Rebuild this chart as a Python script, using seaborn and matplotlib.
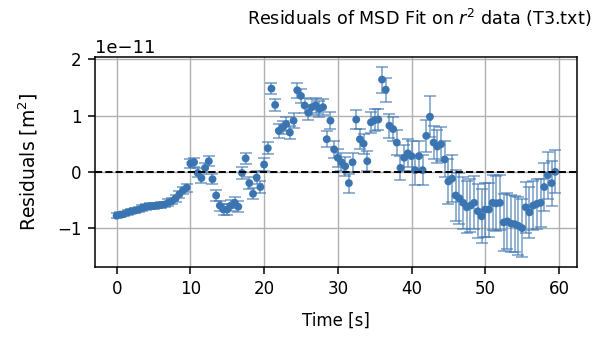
import numpy as np
import pandas as pd
import matplotlib
matplotlib.use("Agg")
import matplotlib.pyplot as plt
import seaborn as sns

# time samples [s]
time_s = [i * 0.5 for i in range(120)]

# residuals in units of 1e-11 m^2
residuals_e11 = [
    -0.78, -0.76, -0.75, -0.72, -0.70, -0.69, -0.67, -0.64, -0.62, -0.61,
    -0.61, -0.60, -0.59, -0.58, -0.55, -0.52, -0.47, -0.40, -0.33, -0.28,
    0.15, 0.17, -0.02, -0.11, 0.07, 0.19, -0.13, -0.42, -0.60, -0.67,
    -0.67, -0.60, -0.55, -0.62, -0.02, 0.24, -0.20, -0.39, -0.10, -0.27,
    0.13, 0.42, 1.48, 1.19, 0.73, 0.79, 0.85, 0.70, 0.91, 1.45,
    1.35, 1.18, 1.05, 1.15, 1.18, 1.12, 1.15, 0.58, 0.91, 0.40,
    0.25, 0.17, 0.10, -0.20, 0.17, 0.93, 0.58, 0.50, 0.19, 0.88,
    0.92, 0.93, 1.64, 1.46, 0.82, 0.76, 0.52, 0.07, 0.25, 0.33,
    0.28, 0.03, 0.28, 0.03, 0.64, 0.98, 0.52, 0.45, 0.49, 0.22,
    -0.17, -0.12, -0.42, -0.47, -0.55, -0.63, -0.60, -0.55, -0.70, -0.79,
    -0.67, -0.67, -0.55, -0.56, -0.55, -0.90, -0.88, -0.92, -0.93, -0.96,
    -1.00, -0.63, -0.72, -0.60, -0.57, -0.55, -0.27, -0.06, -0.20, 0.00,
]

# one-sigma uncertainties in units of 1e-11 m^2
errors_e11 = [
    0.04, 0.04, 0.04, 0.04, 0.04, 0.04, 0.05, 0.05, 0.05, 0.05,
    0.05, 0.05, 0.05, 0.05, 0.06, 0.06, 0.06, 0.06, 0.06, 0.07,
    0.08, 0.08, 0.08, 0.08, 0.08, 0.09, 0.09, 0.09, 0.09, 0.09,
    0.09, 0.10, 0.10, 0.10, 0.10, 0.10, 0.10, 0.10, 0.11, 0.11,
    0.11, 0.11, 0.10, 0.11, 0.12, 0.12, 0.12, 0.12, 0.13, 0.13,
    0.13, 0.13, 0.13, 0.14, 0.14, 0.14, 0.14, 0.14, 0.15, 0.15,
    0.16, 0.16, 0.17, 0.17, 0.17, 0.17, 0.18, 0.18, 0.18, 0.19,
    0.19, 0.19, 0.23, 0.21, 0.21, 0.21, 0.22, 0.22, 0.23, 0.25,
    0.26, 0.26, 0.27, 0.27, 0.28, 0.36, 0.29, 0.30, 0.30, 0.32,
    0.40, 0.42, 0.45, 0.45, 0.46, 0.46, 0.47, 0.47, 0.48, 0.48,
    0.48, 0.48, 0.49, 0.49, 0.49, 0.50, 0.50, 0.50, 0.50, 0.52,
    0.52, 0.45, 0.45, 0.44, 0.44, 0.43, 0.43, 0.42, 0.40, 0.38,
]

scale = 1e-11
df = pd.DataFrame({
    "Time": time_s,
    "Residual": [r * scale for r in residuals_e11],
    "Err": [e * scale for e in errors_e11],
})

sns.set_theme(style="whitegrid")
plt.rcParams.update({
    "font.family": ["DejaVu Sans"],
    "axes.edgecolor": "black",
    "axes.linewidth": 1.1,
    "grid.color": "#b0b0b0",
    "grid.linewidth": 1.0,
    "xtick.bottom": True,
    "ytick.left": True,
    "xtick.color": "black",
    "ytick.color": "black",
    "xtick.major.size": 5,
    "ytick.major.size": 5,
    "xtick.major.width": 1.1,
    "ytick.major.width": 1.1,
    "xtick.major.pad": 4.5,
    "ytick.major.pad": 4.5,
    "axes.labelcolor": "black",
    "text.color": "black",
})

color = "#3b75b1"
fig = plt.figure(figsize=(5.92, 3.40), dpi=100)
ax = fig.add_axes([0.160, 0.215, 0.815, 0.617])

ax.errorbar(df["Time"], df["Residual"], yerr=df["Err"], fmt="none",
            ecolor=color, elinewidth=1.1, capsize=4.5, capthick=1.1, alpha=0.7, zorder=2)
sns.scatterplot(data=df, x="Time", y="Residual", ax=ax, color=color,
                s=32, edgecolor="none", zorder=3)
ax.axhline(0, color="black", linestyle="--", linewidth=1.4, zorder=4)

ax.set_xlabel("Time [s]", fontsize=12, labelpad=10)
ax.set_ylabel("Residuals [m$^2$]", fontsize=13.5, labelpad=12)
ax.tick_params(labelsize=12)
ax.yaxis.get_offset_text().set_fontsize(13)
ax.set_xticks([0, 10, 20, 30, 40, 50, 60])
ax.set_yticks([-1e-11, 0, 1e-11, 2e-11])
ax.grid(True)
fig.text(0.708, 0.948, "Residuals of MSD Fit on $r^2$ data (T3.txt)",
         ha="center", va="center", fontsize=12.6)

fig.savefig("out.png", dpi=100)
